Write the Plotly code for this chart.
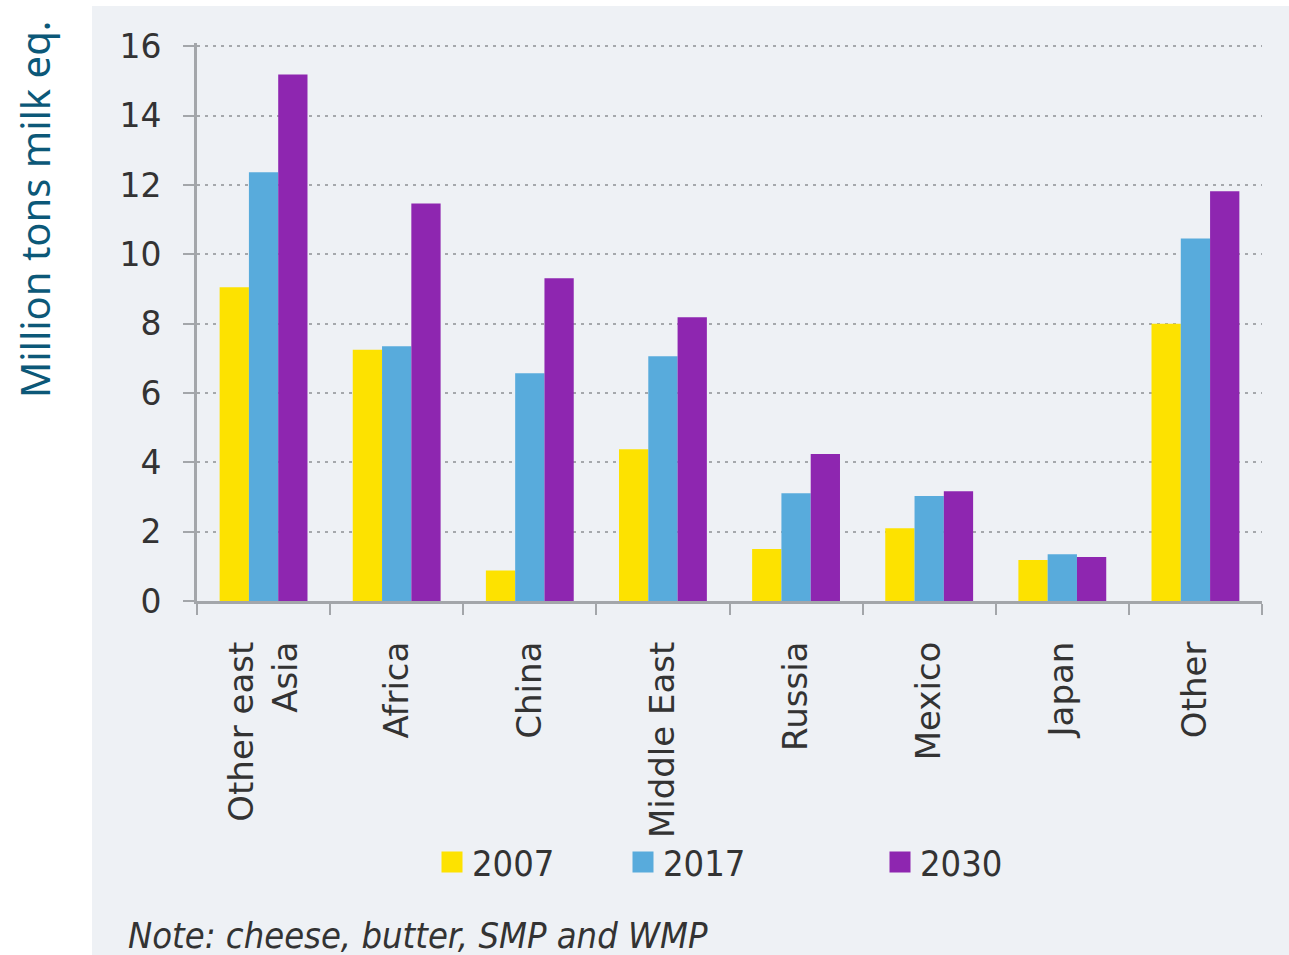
import plotly.graph_objects as go

# Dairy import demand by region, million tons of milk equivalent
regions = ["Other east<br>Asia", "Africa", "China", "Middle East", "Russia", "Mexico", "Japan", "Other"]
years = ["2007", "2017", "2030"]
v2007 = [9.05, 7.25, 0.88, 4.38, 1.5, 2.1, 1.18, 8.0]
v2017 = [12.37, 7.35, 6.57, 7.06, 3.11, 3.03, 1.35, 10.46]
v2030 = [15.19, 11.47, 9.31, 8.19, 4.24, 3.17, 1.27, 11.82]
y_ticks = [0, 2, 4, 6, 8, 10, 12, 14, 16]

colors = {"2007": "#fde200", "2017": "#58abdc", "2030": "#8e26b0"}
series = {"2007": v2007, "2017": v2017, "2030": v2030}
legend_of = {"2007": "legend", "2017": "legend", "2030": "legend2"}

W, H = 1289, 955
L, R, T, B = 197, 27, 43, 354
pw, ph = W - L - R, H - T - B


def px_x(px):
    return (px - L) / pw


def px_y(py):
    return (H - B - py) / ph


fig = go.Figure()
for yr in years:
    fig.add_trace(go.Bar(
        x=regions, y=series[yr], name=yr, marker_color=colors[yr],
        marker_line_width=0, showlegend=False,
    ))
    # larger square swatch for the legend entry
    fig.add_trace(go.Scatter(
        x=[None], y=[None], mode="markers", name=yr,
        marker=dict(symbol="square", size=16, color=colors[yr],
                    line=dict(width=5, color=colors[yr])),
        legend=legend_of[yr],
    ))

legend_font = dict(family="DejaVu Sans Condensed, DejaVu Sans", size=36, color="#333333")

fig.update_layout(
    width=W, height=H,
    margin=dict(l=L, r=R, t=T, b=B),
    paper_bgcolor="white",
    plot_bgcolor="rgba(0,0,0,0)",
    barmode="group", bargap=0.34, bargroupgap=0,
    font=dict(family="DejaVu Sans", color="#333333"),
    legend=dict(
        orientation="h", x=px_x(432), y=px_y(862), xanchor="left", yanchor="middle",
        font=legend_font, entrywidth=146, entrywidthmode="pixels",
        bgcolor="rgba(0,0,0,0)", itemwidth=30,
    ),
    legend2=dict(
        orientation="h", x=px_x(880), y=px_y(862), xanchor="left", yanchor="middle",
        font=legend_font, bgcolor="rgba(0,0,0,0)", itemwidth=30,
    ),
    xaxis=dict(
        type="category", tickson="boundaries", ticks="outside", ticklen=11,
        tickwidth=2, tickcolor="#a3a6aa", showline=True, linewidth=3,
        linecolor="#a3a6aa", showgrid=False, tickangle=-90,
        tickfont=dict(size=34, color="#333333"), ticklabelstandoff=24,
    ),
    yaxis=dict(
        range=[0, 16.1], tickvals=y_ticks, ticks="outside", ticklen=11, tickwidth=2,
        tickcolor="#a3a6aa", showline=True, linewidth=3, linecolor="#a3a6aa",
        showgrid=True, gridcolor="#a5a8ac", gridwidth=2, griddash="3px,5px",
        zeroline=False, tickfont=dict(size=33, color="#333333"), ticklabelstandoff=15,
    ),
    shapes=[dict(
        type="rect", xref="paper", yref="paper", layer="below",
        x0=px_x(92), x1=px_x(W), y0=px_y(H), y1=px_y(6),
        fillcolor="#eef1f5", line_width=0,
    )],
    annotations=[
        dict(
            text="Million tons milk eq.", xref="paper", yref="paper",
            x=px_x(34), y=px_y(210), xanchor="center", yanchor="middle",
            textangle=-90, showarrow=False,
            font=dict(family="Noto Sans, Open Sans", size=40, color="#0c5878"),
        ),
        dict(
            text="<i>Note: cheese, butter, SMP and WMP</i>", xref="paper", yref="paper",
            x=px_x(126), y=px_y(935), xanchor="left", yanchor="middle",
            showarrow=False,
            font=dict(family="DejaVu Sans Condensed, DejaVu Sans", size=36, color="#333333"),
        ),
    ],
)

fig.write_html("out.html")
